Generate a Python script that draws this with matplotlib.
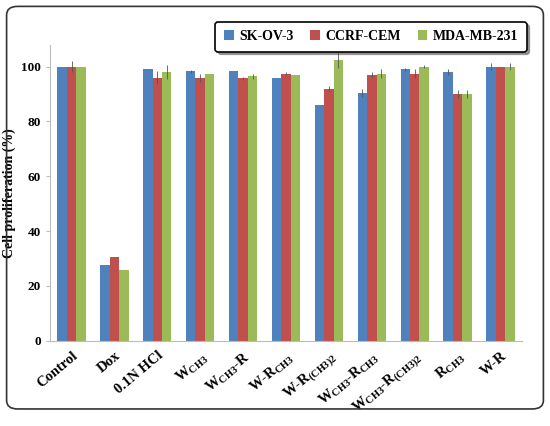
import matplotlib
matplotlib.use("Agg")
import matplotlib.pyplot as plt
import numpy as np
from matplotlib.patches import FancyBboxPatch

plt.rcParams['font.family'] = ['Liberation Serif', 'DejaVu Serif']
plt.rcParams['font.weight'] = 'bold'
plt.rcParams['mathtext.fontset'] = 'custom'
plt.rcParams['mathtext.rm'] = 'Liberation Serif:bold'

def s(t):
    return r'$_{\mathregular{' + t + '}}$'

categories = ['Control', 'Dox', '0.1N HCl', 'W' + s('CH3'), 'W' + s('CH3') + '-R',
              'W-R' + s('CH3'), 'W-R' + s('(CH3)2'), 'W' + s('CH3') + '-R' + s('CH3'),
              'W' + s('CH3') + '-R' + s('(CH3)2'), 'R' + s('CH3'), 'W-R']
skov3 = [100, 27.5, 99.2, 98.3, 98.5, 96, 86, 90.5, 99, 98, 100]
ccrf = [100, 30.5, 96, 95.8, 95.8, 97.5, 92, 97, 97.5, 90, 100]
mda = [100, 26, 98, 97.2, 96.5, 97, 102.5, 97.5, 100, 90, 100]
skov3_err = [0, 0, 0, 0.5, 0, 0, 0, 1.5, 0.5, 1.2, 1.2]
ccrf_err = [2, 0, 2.5, 1.5, 0.5, 0.5, 1, 1, 1.5, 1.5, 0]
mda_err = [0, 0, 2.5, 0, 1, 0, 3, 1.5, 0.5, 1.5, 1.2]
names = ['SK-OV-3', 'CCRF-CEM', 'MDA-MB-231']
colors = ['#4F81BD', '#C0504D', '#9BBB59']

fig = plt.figure(figsize=(5.5, 4.26), dpi=100)
fig.patches.append(FancyBboxPatch((0.012, 0.04), 0.976, 0.945, boxstyle='round,pad=0,rounding_size=0.02',
                                  transform=fig.transFigure, fill=False, lw=1.2, ec='#333333'))
ax = fig.add_axes([0.091, 0.2, 0.858, 0.695])
x = np.arange(len(categories))
w = 0.22
for i, (vals, err) in enumerate(zip([skov3, ccrf, mda], [skov3_err, ccrf_err, mda_err])):
    ax.bar(x + (i - 1) * w, vals, w, color=colors[i], label=names[i],
           yerr=err, error_kw=dict(elinewidth=0.6, ecolor='#555555', capsize=0))
ax.set_ylim(0, 108)
ax.set_xlim(-0.5, len(categories) - 0.5)
ax.set_yticks(range(0, 101, 20))
for sp in ['top', 'right']:
    ax.spines[sp].set_visible(False)
ax.spines['left'].set_color('#bbbbbb')
ax.spines['bottom'].set_color('#bbbbbb')
ax.set_xticks(x)
ax.set_xticklabels(categories, rotation=40, ha='right', rotation_mode='anchor', fontsize=10.5,
                   fontweight='bold')
ax.tick_params(axis='y', labelsize=9.5, length=3, color='#bbbbbb')
ax.tick_params(axis='x', length=0, pad=6)
ax.set_ylabel('Cell proliferation (%)', fontsize=10, fontweight='bold')
leg = fig.legend(loc='upper right', bbox_to_anchor=(0.97, 0.965), ncol=3,
                 prop={'size': 10, 'weight': 'bold'},
                 frameon=True, fancybox=True, shadow=True, handlelength=0.7, columnspacing=1.2,
                 handletextpad=0.4, edgecolor='black', borderpad=0.6)
leg.get_frame().set_linewidth(1.2)
fig.savefig('out.png', dpi=100)
